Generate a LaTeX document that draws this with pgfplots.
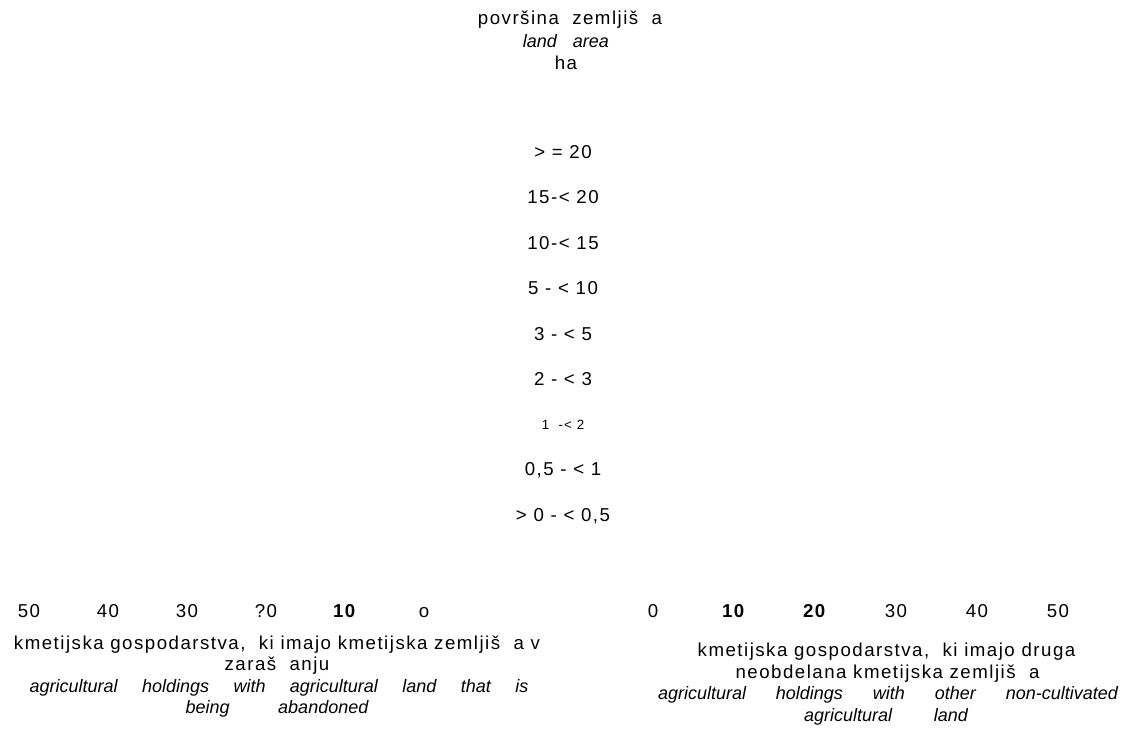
\documentclass[border=0pt]{standalone}
\usepackage{fontspec}
\setmainfont{Liberation Sans}[LetterSpace=8]
\newfontfamily\itfont{Liberation Sans}[ItalicFont={Liberation Sans Italic}]
\usepackage{pgfplots}
\pgfplotsset{compat=1.18}
\newcommand{\fsz}{\fontsize{14}{16}\selectfont}
\newcommand{\fitl}{\itfont\itshape\fontsize{13.5}{16}\selectfont}
\begin{document}
\begin{tikzpicture}
\useasboundingbox (0pt,0pt) rectangle (845.25pt,-552pt);
\pgfplotsset{
  bfly/.style={
    scale only axis,
    height=351.75pt,
    ymin=-1.8, ymax=8.5,
    xmin=0, xmax=50,
    axis line style={draw=none},
    major tick length=0pt,
    tick label style={font=\fsz},
    xtick={0,10,20,30,40,50},
    xticklabel style={yshift=-1pt, text height=10pt, text depth=0pt},
  }
}
% left panel: holdings with agricultural land that is being abandoned
\begin{axis}[bfly,
  at={(21.75pt,-448.5pt)}, anchor=south west,
  width=296.25pt,
  x dir=reverse,
  ytick=\empty,
  xticklabels={o,\textbf{10},?0,30,40,50},
]
\end{axis}
% right panel: holdings with other non-cultivated agricultural land
\begin{axis}[bfly,
  at={(489.75pt,-448.5pt)}, anchor=south west,
  width=303.75pt,
  xticklabels={0,\textbf{10},\textbf{20},30,40,50},
  ytick={0,1,2,3,4,5,6,7,8},
  yticklabels={{> 0 - < 0,5},{0,5 - < 1},{\fontsize{10}{12}\selectfont 1\ \ -< 2},{2 - < 3},{3 - < 5},{5 - < 10},{10-< 15},{15-< 20},{> = 20}},
  yticklabel style={anchor=center, xshift=-67.5pt},
]
\end{axis}
\begin{scope}[x=0.75pt,y=-0.75pt]
  \node[font=\fsz] at (570,20) {površina\ \ zemljiš\ \ a};
  \node[font=\fitl] at (566,41) {land\hspace{12pt}area};
  \node[font=\fsz] at (566,63) {ha};
  % left title
  \node[font=\fsz] at (277,645) {kmetijska gospodarstva,\ \ ki imajo kmetijska zemljiš\ \ a v};
  \node[font=\fsz] at (277,666) {zaraš\ \ anju};
  \node[font=\fitl] at (279,688) {\makebox[374pt][s]{agricultural holdings with agricultural land that is}};
  \node[font=\fitl] at (277,709) {\makebox[137pt][s]{being abandoned}};
  % right title
  \node[font=\fsz] at (886.5,652) {kmetijska gospodarstva,\ \ ki imajo druga};
  \node[font=\fsz] at (887.5,674) {neobdelana kmetijska zemljiš\ \ a};
  \node[font=\fitl] at (888,695) {\makebox[345pt][s]{agricultural holdings with other non-cultivated}};
  \node[font=\fitl] at (886,717) {\makebox[123pt][s]{agricultural land}};
\end{scope}
\end{tikzpicture}
\end{document}
